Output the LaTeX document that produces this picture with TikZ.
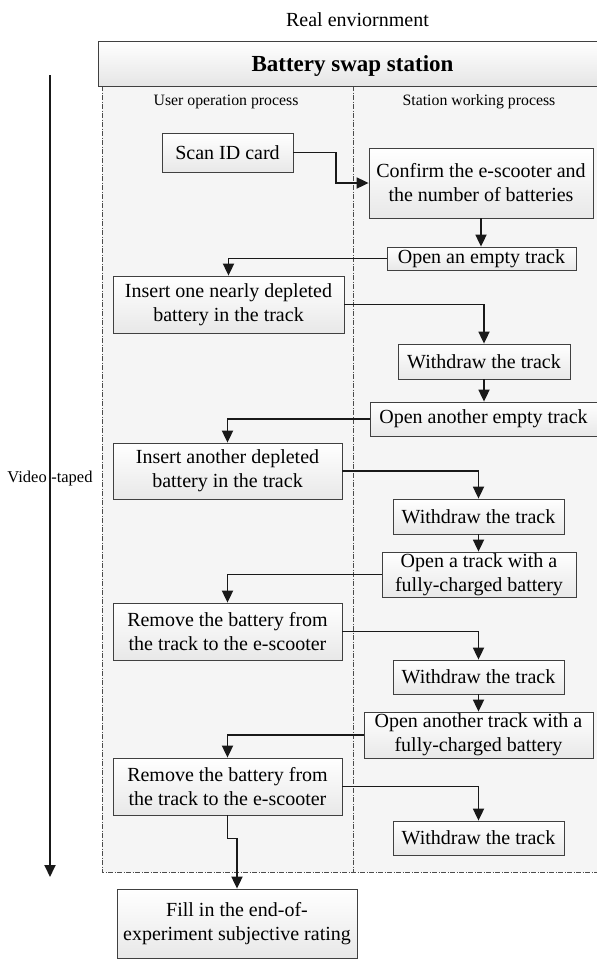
\documentclass[tikz,border=0pt]{standalone}
\usepackage{fontspec}
\setmainfont{Liberation Serif}
\usetikzlibrary{arrows.meta,shadows,calc}

\newcommand{\boxfont}{\fontsize{20}{24}\selectfont}

\tikzset{
  stepbox/.style={draw=black!75, line width=0.8pt, top color=white, bottom color=black!9,
    drop shadow={shadow xshift=1.3pt, shadow yshift=-1.3pt, opacity=0.3, fill=black!60},
    inner sep=0pt, align=center, font=\boxfont},
  conn/.style={line width=1.8pt, draw=black!90, -{Triangle[width=11pt,length=12pt]}},
  lanelabel/.style={font=\fontsize{15.8}{18}\selectfont, anchor=base, inner sep=0pt},
  laneedge/.style={draw=black!70, line width=0.7pt, dash pattern=on 5pt off 1.5pt on 1pt off 1.5pt},
}

\begin{document}
\begin{tikzpicture}[x=1pt,y=-1pt]
\useasboundingbox (0,0) rectangle (597,959);

% title
\node[anchor=base, inner sep=0pt, font=\fontsize{20}{24}\selectfont] (title) at (357.5,26) {Real enviornment};

% lanes
\fill[black!4] (102,86) rectangle (597,872);
\draw[laneedge] (102,86) rectangle (597,872);
\draw[laneedge] (353,86) -- (353,872);

% station header
\node[draw=black!75, line width=0.8pt, top color=white, bottom color=black!10,
      drop shadow={shadow xshift=1.3pt, shadow yshift=-1.3pt, opacity=0.3, fill=black!60},
      minimum width=499pt, minimum height=45pt, inner sep=0pt] (hdr) at (347.5,63.5) {};
\node[anchor=base, inner sep=0pt, font=\fontsize{23}{27}\selectfont\bfseries] (hdrtxt) at (352.5,71) {Battery swap station};

\node[lanelabel] (userlane) at (226,105) {User operation process};
\node[lanelabel] (stationlane) at (479,105) {Station working process};

% time axis
\node[anchor=base, inner sep=0pt, font=\fontsize{16.5}{20}\selectfont] (vt) at (50,482) {Video\hspace{4.5pt}-taped};
\coordinate (axtop) at (50,75);
\coordinate (axbot) at (50,877);
\draw[conn] (axtop) -- (axbot);

% process steps
\node[stepbox, minimum width=131pt, minimum height=39pt] (scan) at (227.5,152.5) {Scan ID card};
\node[stepbox, minimum width=224pt, minimum height=70pt] (conf) at (481,183) {Confirm the e-scooter and\\the number of batteries};
\node[stepbox, minimum width=189pt, minimum height=23pt] (open1) at (481.5,258.5) {Open an empty track};
\node[stepbox, minimum width=231pt, minimum height=57pt] (ins1) at (228.5,304.5) {Insert one nearly depleted\\battery in the track};
\node[stepbox, minimum width=172pt, minimum height=35pt] (wd1) at (484,361.5) {Withdraw the track};
\node[stepbox, minimum width=227pt, minimum height=34pt] (open2) at (483.5,419) {Open another empty track};
\node[stepbox, minimum width=229pt, minimum height=56pt] (ins2) at (227.5,471) {Insert another depleted\\battery in the track};
\node[stepbox, minimum width=171pt, minimum height=35pt] (wd2) at (478.5,516.5) {Withdraw the track};
\node[stepbox, minimum width=194pt, minimum height=45pt] (open3) at (479,574.5) {Open a track with a\\fully-charged battery};
\node[stepbox, minimum width=229pt, minimum height=57pt] (rem1) at (227.5,631.5) {Remove the battery from\\the track to the e-scooter};
\node[stepbox, minimum width=171pt, minimum height=34pt] (wd3) at (478.5,677) {Withdraw the track};
\node[stepbox, minimum width=229pt, minimum height=46pt] (open4) at (478.5,735) {Open another track with a\\fully-charged battery};
\node[stepbox, minimum width=229pt, minimum height=57pt] (rem2) at (227.5,786.5) {Remove the battery from\\the track to the e-scooter};
\node[stepbox, minimum width=171pt, minimum height=34pt] (wd4) at (478.5,838) {Withdraw the track};
\node[stepbox, minimum width=240pt, minimum height=69pt] (fill) at (237,923.5) {Fill in the end-of-\\experiment subjective rating};

% connectors
\coordinate (bend1) at (336,0);
\draw[conn] (scan.east) -- (scan.east -| bend1) -- (bend1 |- conf.west) -- (conf.west);
\draw[conn] (conf.south) -- (conf.south |- open1.north);
\draw[conn] (open1.west) -| (ins1.north);
\draw[conn] (ins1.east) -| (wd1.north);
\draw[conn] (wd1.south) -- (wd1.south |- open2.north);
\draw[conn] (open2.west) -| (ins2.north);
\draw[conn] (ins2.east) -| (wd2.north);
\draw[conn] (wd2.south) -- (wd2.south |- open3.north);
\draw[conn] (open3.west) -| (rem1.north);
\draw[conn] (rem1.east) -| (wd3.north);
\draw[conn] (wd3.south) -- (wd3.south |- open4.north);
\draw[conn] (open4.west) -| (rem2.north);
\draw[conn] (rem2.east) -| (wd4.north);
\draw[conn] (rem2.south) -- ++(0,23) -| (fill.north);
\end{tikzpicture}
\end{document}
